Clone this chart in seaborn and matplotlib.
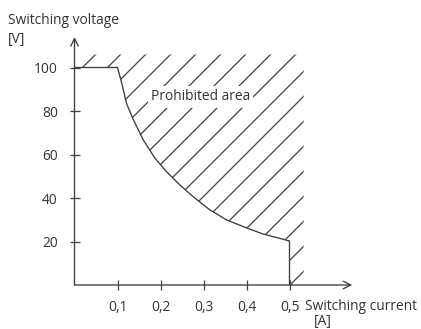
import matplotlib
matplotlib.use("Agg")
import matplotlib.pyplot as plt
import seaborn as sns

# switching limit curve (current in A, voltage in V)
current = [0.0, 0.1, 0.11, 0.121, 0.137, 0.16, 0.187, 0.214, 0.245, 0.276,
           0.315, 0.354, 0.397, 0.439, 0.486, 0.5, 0.5]
voltage = [100, 100, 92.7, 83.5, 75.9, 66.7, 58.3, 52.1, 46.0, 40.6,
           34.5, 29.9, 26.5, 23.4, 21.0, 20.2, 0]
x_ticks = [0.1, 0.2, 0.3, 0.4, 0.5]
x_labels = ["0,1", "0,2", "0,3", "0,4", "0,5"]
y_ticks = [20, 40, 60, 80, 100]

sns.set_theme(style="white")
plt.rcParams["font.family"] = ["Open Sans", "DejaVu Sans"]
plt.rcParams["hatch.linewidth"] = 0.6
ink = "#404040"
txt = "#333333"
fs = 6.6

W, H, DPI = 421, 329, 150
fig = plt.figure(figsize=(W / DPI, H / DPI), dpi=DPI)
xmax, ymax = 0.66, 116
ax = fig.add_axes([74.5 / W, (H - 285) / H, xmax * 430 / W, ymax * 2.175 / H])
ax.set_xlim(0, xmax)
ax.set_ylim(0, ymax)

# hatched prohibited region above the curve
hx = current + [0.533]
hy = voltage + [0]
ax.fill_between(hx, hy, 106, facecolor="none", edgecolor=ink, hatch="//", linewidth=0)

sns.lineplot(x=current, y=voltage, sort=False, estimator=None, color=ink,
             linewidth=0.65, ax=ax)
ax.lines[-1].set_clip_on(False)

for s in ax.spines.values():
    s.set_visible(False)
arrow = dict(arrowstyle="->", color=ink, lw=0.65, shrinkA=0, shrinkB=0, mutation_scale=9)
ax.annotate("", xy=(0.646, 0), xytext=(0, 0), arrowprops=arrow, annotation_clip=False)
ax.annotate("", xy=(0, 114), xytext=(0, 0), arrowprops=arrow, annotation_clip=False)

ax.set_xticks(x_ticks)
ax.set_xticklabels(x_labels)
ax.set_yticks(y_ticks)
ax.tick_params(axis="both", direction="inout", length=5, width=0.6, color=ink,
               labelsize=fs, labelcolor=txt)
ax.tick_params(axis="y", pad=5.5, left=True)
ax.tick_params(axis="x", pad=4.5, bottom=True)
ax.grid(False)

ax.text(0.293, 86.5, "Prohibited area", fontsize=fs, color=txt, ha="center", va="center",
        bbox=dict(facecolor="white", edgecolor="none", pad=1.5))

fig.text(8 / W, 1 - 20 / H, "Switching voltage", fontsize=fs, color=txt, va="center")
fig.text(8 / W, 1 - 40 / H, "[V]", fontsize=fs, color=txt, va="center")
fig.text(305 / W, 1 - 307 / H, "Switching current", fontsize=fs, color=txt, va="center")
fig.text(323 / W, 1 - 322 / H, "[A]", fontsize=fs, color=txt, va="center", ha="center")

fig.savefig("out.png", dpi=DPI, facecolor="white")
